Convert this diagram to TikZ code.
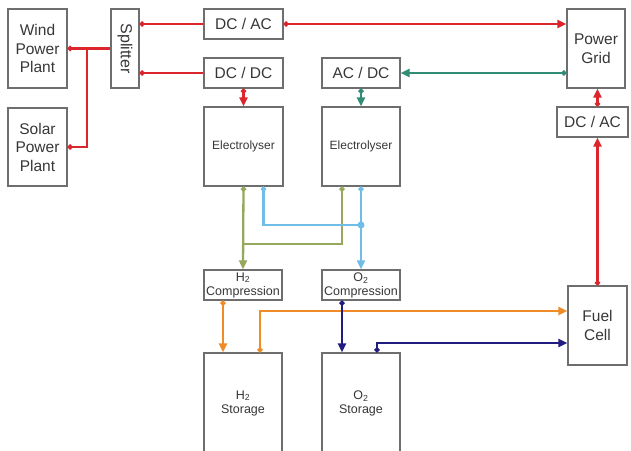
\documentclass[tikz,border=0pt]{standalone}
\usepackage{fontspec}
\setmainfont{Liberation Sans}
\usetikzlibrary{arrows.meta}
\definecolor{cred}{RGB}{218,38,44}
\definecolor{cteal}{RGB}{48,140,116}
\definecolor{colive}{RGB}{150,168,92}
\definecolor{cblue}{RGB}{112,190,232}
\definecolor{corange}{RGB}{240,140,40}
\definecolor{cnavy}{RGB}{32,28,128}
\definecolor{cbord}{RGB}{110,110,110}
\definecolor{ctext}{RGB}{55,55,55}
\begin{document}
\begin{tikzpicture}[x=1pt,y=-1pt,
  box/.style={draw=cbord,line width=1.3pt,inner sep=0pt,align=center,text=ctext,font=\fontsize{15.5}{18.5}\selectfont},
  small/.style={font=\fontsize{12}{14}\selectfont},
  mid/.style={font=\fontsize{12.5}{14}\selectfont},
  wire/.style={line width=2.3pt,{Circle[length=5pt]}-{Triangle[length=9pt,width=8pt]}},
  plain/.style={line width=2.3pt,{Circle[length=5pt]}-}]
\clip (0,0) rectangle (631,450);
\fill[white] (0,0) rectangle (631,450);
\node[box,minimum width=59pt,minimum height=79pt] (wind) at (37.5,48.5) {Wind\\Power\\Plant};
\node[box,minimum width=59pt,minimum height=78pt] (solar) at (37.5,147) {Solar\\Power\\Plant};
\node[box,minimum width=28pt,minimum height=79pt] (split) at (125,48.5) {};
\node[rotate=-90,text=ctext,inner sep=0pt,font=\fontsize{16}{18}\selectfont] (splitl) at (split.center) {Splitter};
\node[box,minimum width=79pt,minimum height=30pt] (dcac1) at (243.5,24) {DC / AC};
\node[box,minimum width=79pt,minimum height=30pt] (dcdc) at (243.5,73) {DC / DC};
\node[box,small,minimum width=79pt,minimum height=79pt] (el1) at (243.5,146.5) {Electrolyser};
\node[box,minimum width=78pt,minimum height=30pt] (acdc) at (361,73) {AC / DC};
\node[box,small,minimum width=78pt,minimum height=79pt] (el2) at (361,146.5) {Electrolyser};
\node[box,minimum width=58pt,minimum height=79pt] (grid) at (596,48.5) {Power\\Grid};
\node[box,minimum width=71pt,minimum height=30pt] (dcac2) at (592.5,122) {DC / AC};
\node[box,minimum width=59pt,minimum height=79pt] (fuel) at (597.5,325.5) {Fuel\\Cell};
\node[box,mid,minimum width=78pt,minimum height=30pt] (h2c) at (243,285) {H\textsubscript{2}\\Compression};
\node[box,mid,minimum width=78pt,minimum height=30pt] (o2c) at (361,285) {O\textsubscript{2}\\Compression};
\node[box,mid,minimum width=78pt,minimum height=100pt] (h2s) at (243,403) {H\textsubscript{2}\\Storage};
\node[box,mid,minimum width=78pt,minimum height=100pt] (o2s) at (361,403) {O\textsubscript{2}\\Storage};
\coordinate (j1) at (87,48.5);
\coordinate (j2) at (361,225);
% red power
\draw[cred,plain] (wind.east) -- (split.west);
\draw[cred,plain] (solar.east) -| (j1);
\draw[cred,plain] (split.east |- dcac1.west) -- (dcac1.west);
\draw[cred,plain] (split.east |- dcdc.west) -- (dcdc.west);
\draw[cred,wire] (dcac1.east) -- (dcac1.east -| grid.west);
\draw[cred,wire] (dcdc.south) -- (el1.north);
\draw[cred,wire] (fuel.north) -- (fuel.north |- dcac2.south);
\draw[cred,wire] (fuel.north |- dcac2.north) -- (fuel.north |- grid.south);
% teal
\draw[cteal,wire] (grid.west |- acdc.east) -- (acdc.east);
\draw[cteal,wire] (acdc.south) -- (el2.north);
% olive H2
\draw[colive,wire] (el1.south) -- (h2c.north);
\draw[colive,plain] ([xshift=-19pt]el2.south) |- (243.5,244);
% blue O2
\draw[cblue,plain] ([xshift=20pt]el1.south) |- (j2);
\draw[cblue,wire] (el2.south) -- (o2c.north);
\fill[cblue] (j2) circle (3.5pt);
% orange
\draw[corange,wire] ([xshift=-20pt]h2c.south) -- ([xshift=-20pt]h2s.north);
\draw[corange,wire] ([xshift=17pt]h2s.north) |- ([yshift=14.5pt]fuel.west);
% navy
\draw[cnavy,wire] ([xshift=-19pt]o2c.south) -- ([xshift=-19pt]o2s.north);
\draw[cnavy,wire] ([xshift=16pt]o2s.north) |- ([yshift=-17.5pt]fuel.west);
\end{tikzpicture}
\end{document}
